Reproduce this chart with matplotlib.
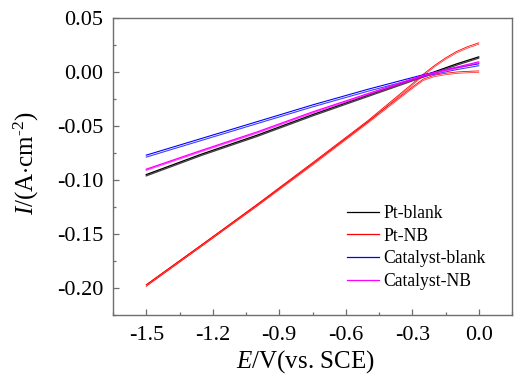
import matplotlib
matplotlib.use("Agg")
import matplotlib.pyplot as plt
from matplotlib.ticker import MultipleLocator, FormatStrFormatter

plt.rcParams['font.family'] = ['Liberation Serif', 'DejaVu Serif']
plt.rcParams['mathtext.fontset'] = 'custom'
plt.rcParams['mathtext.rm'] = 'Liberation Serif'
plt.rcParams['mathtext.it'] = 'Liberation Serif:italic'
plt.rcParams['axes.unicode_minus'] = False

# ---- data ----
pt_blank_E = [-1.5, -1.25, -1.0, -0.75, -0.5, -0.25, -0.1, 0.0]
pt_blank_I = [-0.095, -0.0760, -0.0585, -0.0395, -0.0215, -0.0035, 0.0075, 0.014]

ptnb_fwd_E = [-1.5, -1.25, -1.0, -0.75, -0.5, -0.4, -0.3, -0.25, -0.2, -0.15, -0.1, -0.05, 0.0]
ptnb_fwd_I = [-0.197, -0.160, -0.123, -0.085, -0.046, -0.030, -0.014, -0.0065, -0.0030, -0.0012, 0.0, 0.0006, 0.0010]
ptnb_bwd_E = [-1.5, -1.25, -1.0, -0.75, -0.5, -0.4, -0.3, -0.25, -0.2, -0.15, -0.1, -0.05, 0.0]
ptnb_bwd_I = [-0.197, -0.160, -0.1225, -0.084, -0.045, -0.028, -0.011, -0.002, 0.006, 0.013, 0.019, 0.0235, 0.027]

cat_blank_E = [-1.5, -1.25, -1.0, -0.75, -0.5, -0.25, -0.1, 0.0]
cat_blank_I = [-0.077, -0.0615, -0.0460, -0.0305, -0.016, -0.0025, 0.0040, 0.0076]

cat_nb_E = [-1.5, -1.25, -1.0, -0.75, -0.5, -0.25, -0.1, 0.0]
cat_nb_I = [-0.090, -0.0725, -0.0555, -0.037, -0.020, -0.003, 0.0045, 0.0094]

labels = ['Pt-blank', 'Pt-NB', 'Catalyst-blank', 'Catalyst-NB']
colors = ['#000000', '#ff0000', '#0000ff', '#ff00ff']
dup_offset = [0.0012, 0.0013, 0.0018, 0.0010]

xticks = [-1.5, -1.2, -0.9, -0.6, -0.3, 0.0]
yticks = [-0.20, -0.15, -0.10, -0.05, 0.00, 0.05]

fig = plt.figure(figsize=(5.19, 3.76), dpi=100)
ax = fig.add_axes([113/519, 1-315/376, (512-113)/519, (315-18)/376])

series = [
    [(pt_blank_E, pt_blank_I)],
    [(ptnb_fwd_E, ptnb_fwd_I), (ptnb_bwd_E, ptnb_bwd_I)],
    [(cat_blank_E, cat_blank_I)],
    [(cat_nb_E, cat_nb_I)],
]
widths = [0.9, 0.6, 0.8, 0.9]
handles = []
for segs, lab, col, off, lw in zip(series, labels, colors, dup_offset, widths):
    first = True
    for E, I in segs:
        h, = ax.plot(E, I, color=col, lw=lw, label=lab if first else None)
        ax.plot(E, [v - off for v in I], color=col, lw=lw, alpha=0.75)
        if first:
            handles.append(h)
        first = False

ax.set_xlim(-1.65, 0.15)
ax.set_ylim(-0.225, 0.05)
ax.set_xticks(xticks)
ax.set_yticks(yticks)
ax.xaxis.set_minor_locator(MultipleLocator(0.15))
ax.yaxis.set_minor_locator(MultipleLocator(0.025))
ax.xaxis.set_major_formatter(FormatStrFormatter('%.1f'))
ax.yaxis.set_major_formatter(FormatStrFormatter('%.2f'))

spine_col = '#6e6e6e'
for s in ax.spines.values():
    s.set_color(spine_col)
    s.set_linewidth(1.0)
ax.tick_params(which='both', direction='in', colors=spine_col, labelcolor='black',
               top=False, right=False, labelsize=16)
ax.tick_params(axis='x', which='both', pad=8)
ax.tick_params(axis='y', which='both', pad=7)
ax.tick_params(which='major', length=4.5, width=0.9)
ax.tick_params(which='minor', length=2.5, width=0.9)

ax.set_xlabel('$E$/V(vs. SCE)', fontsize=18, va='center')
ax.set_ylabel('$I$/(A$\\cdot$cm$^{\\text{-2}}$)', fontsize=18, va='center')
ax.xaxis.set_label_coords((305 - 113) / 399, -(362 - 315) / 297)
ax.yaxis.set_label_coords(-(113 - 26) / 399, (315 - 163) / 297)

leg = ax.legend(handles=handles, loc='upper left', bbox_to_anchor=(338/519, 1-196/376),
                bbox_transform=fig.transFigure, frameon=False, fontsize=12.7,
                handlelength=1.8, handletextpad=0.28, labelspacing=0.33, borderpad=0)
for l in leg.get_lines():
    l.set_linewidth(0.9)

fig.savefig('out.png', dpi=100)
